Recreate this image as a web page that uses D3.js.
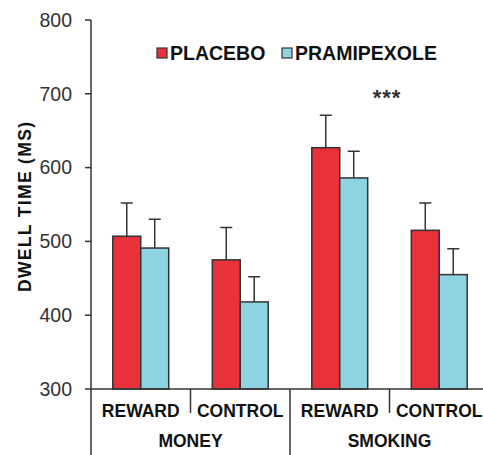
<!DOCTYPE html>
<meta charset="utf-8">
<html>
<head>
    <style>
        body { margin: 0; background: #fff; }
        text { font-family: "Liberation Sans", Arial, sans-serif; fill: #111; }
        .tick-label { font-size: 19.5px; fill: #333; }
        .cat { font-size: 17.5px; font-weight: bold; }
        .legend text { font-size: 19.5px; font-weight: bold; }
        .axis-line { stroke: #333; stroke-width: 1.5px; fill: none; }
        .bar { stroke: #333; stroke-width: 1.5px; }
        .err { stroke: #333; stroke-width: 1.5px; fill: none; }
    </style>
    <script src="https://d3js.org/d3.v7.min.js"></script>
</head>
<body>
<svg id="svg" width="483" height="455"></svg>
<script>

    // data
    var groups = ["MONEY", "SMOKING"];
    var conditions = ["REWARD", "CONTROL", "REWARD", "CONTROL"];
    var series = ["PLACEBO", "PRAMIPEXOLE"];
    var placeboMean = [507, 475, 627, 515];
    var placeboErr = [552, 519, 671, 552];
    var pramMean = [491, 418, 586, 455];
    var pramErr = [530, 452, 622, 490];
    var yTicks = [300, 400, 500, 600, 700, 800];
    var colors = ["#e8313b", "#8ed3e1"];

    var svg = d3.select("svg");

    var x0 = d3.scaleBand()
        .domain(d3.range(conditions.length))
        .range([91, 489]);

    var x1 = d3.scaleBand()
        .domain(series)
        .range([0, x0.bandwidth()])
        .paddingOuter(0.78);

    var y = d3.scaleLinear()
        .domain([300, 800])
        .range([389, 20]);

    // y axis
    svg.append("line").attr("class", "axis-line")
        .attr("x1", 91).attr("x2", 91)
        .attr("y1", y(800)).attr("y2", 455);

    svg.selectAll(".ytick")
        .data(yTicks)
        .enter().append("line")
        .attr("class", "axis-line")
        .attr("x1", 85).attr("x2", 91)
        .attr("y1", function (d) { return y(d); })
        .attr("y2", function (d) { return y(d); });

    svg.selectAll(".tick-label")
        .data(yTicks)
        .enter().append("text")
        .attr("class", "tick-label")
        .attr("x", 72)
        .attr("y", function (d) { return y(d); })
        .attr("dy", "0.35em")
        .style("text-anchor", "end")
        .text(function (d) { return d; });

    svg.append("text")
        .attr("transform", "translate(31," + 207 + ") rotate(-90)")
        .style("text-anchor", "middle")
        .style("font-size", "17.5px")
        .style("font-weight", "bold")
        .attr("textLength", 170)
        .attr("lengthAdjust", "spacing")
        .text("DWELL TIME (MS)");

    // bars
    var rows = conditions.map(function (c, i) {
        return [
            {s: series[0], i: i, v: placeboMean[i], e: placeboErr[i]},
            {s: series[1], i: i, v: pramMean[i], e: pramErr[i]}
        ];
    });
    var flat = [].concat.apply([], rows);

    svg.selectAll(".err")
        .data(flat)
        .enter().append("path")
        .attr("class", "err")
        .attr("d", function (d) {
            var cx = x0(d.i) + x1(d.s) + x1.bandwidth() / 2;
            return "M" + cx + "," + y(d.v) + "V" + y(d.e)
                + "M" + (cx - 6) + "," + y(d.e) + "H" + (cx + 6);
        });

    svg.selectAll(".bar")
        .data(flat)
        .enter().append("rect")
        .attr("class", "bar")
        .attr("x", function (d) { return x0(d.i) + x1(d.s); })
        .attr("width", x1.bandwidth())
        .attr("y", function (d) { return y(d.v); })
        .attr("height", function (d) { return y(300) - y(d.v); })
        .style("fill", function (d) { return colors[series.indexOf(d.s)]; });

    // x axis + category dividers
    svg.append("line").attr("class", "axis-line")
        .attr("x1", 91).attr("x2", 483)
        .attr("y1", y(300)).attr("y2", y(300));

    d3.range(1, conditions.length).forEach(function (i) {
        svg.append("line").attr("class", "axis-line")
            .attr("x1", x0(i)).attr("x2", x0(i))
            .attr("y1", y(300))
            .attr("y2", i % 2 === 0 ? 455 : 413);
    });

    svg.selectAll(".cat-cond")
        .data(conditions)
        .enter().append("text")
        .attr("class", "cat")
        .attr("x", function (d, i) { return x0(i) + x0.bandwidth() / 2; })
        .attr("y", 417)
        .style("text-anchor", "middle")
        .text(function (d) { return d; });

    svg.selectAll(".cat-group")
        .data(groups)
        .enter().append("text")
        .attr("class", "cat")
        .attr("x", function (d, i) { return x0(i * 2) + x0.bandwidth(); })
        .attr("y", 447)
        .style("text-anchor", "middle")
        .text(function (d) { return d; });

    // legend
    var legendX = [157, 282];
    var legend = svg.selectAll(".legend")
        .data(series)
        .enter().append("g")
        .attr("class", "legend")
        .attr("transform", function (d, i) { return "translate(" + legendX[i] + ",48)"; });

    legend.append("rect")
        .attr("width", 10).attr("height", 10)
        .style("fill", function (d, i) { return colors[i]; })
        .style("stroke", "#333").style("stroke-width", 1.2);

    legend.append("text")
        .attr("x", 13).attr("y", 11.5)
        .text(function (d) { return d; });

    // significance
    svg.append("text")
        .attr("x", 387).attr("y", 105)
        .style("text-anchor", "middle")
        .style("font-size", "22px")
        .style("font-weight", "bold")
        .style("fill", "#333")
        .style("letter-spacing", "1px")
        .text("***");

</script>
</body>
</html>
